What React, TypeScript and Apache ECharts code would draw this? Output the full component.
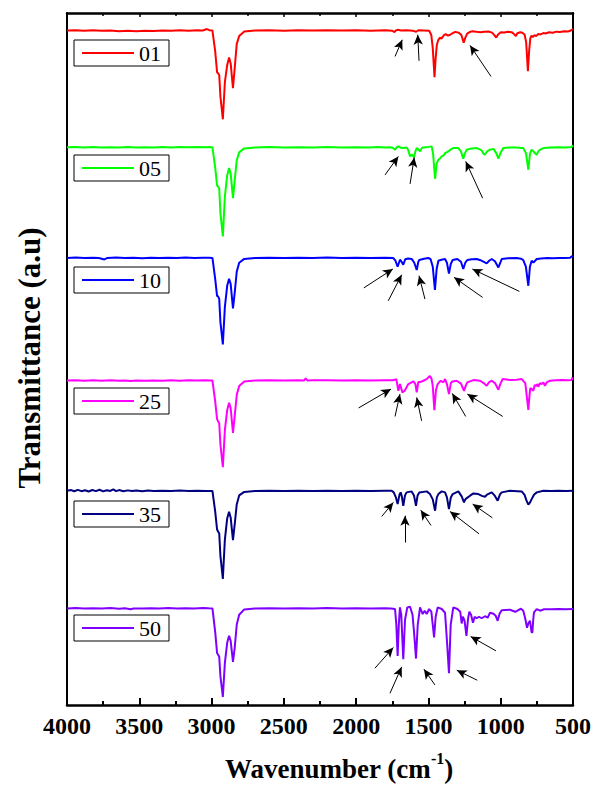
import { useEffect, useRef } from "react";
import * as echarts from "echarts";

type Pt = [number, number];
type Arrow = [number, number, number, number]; // tail wn, tail T, head wn, head T

const X_TICKS = [4000, 3500, 3000, 2500, 2000, 1500, 1000, 500];
const SAMPLE_NAMES = ["01", "05", "10", "25", "35", "50"];
const SAMPLE_COLORS = ["#ff0000", "#00ff00", "#0000ff", "#ff00ff", "#000080", "#8000ff"];

const SPEC_01: Pt[] = [
  [4000, 97.6], [3940, 97.9], [3880, 97.3], [3820, 97.7], [3760, 97.2], [3700, 97.5], [3640, 96.9], [3580, 97.3],
  [3520, 96.8], [3460, 97.4], [3400, 97.1], [3340, 97.6], [3280, 97.2], [3220, 97.7], [3160, 97.4], [3100, 97.8],
  [3060, 97.6], [3033, 99.0], [3015, 97.9], [2994, 97.5], [2975, 77], [2962, 56], [2955, 55], [2947, 53], [2939, 32],
  [2922, 9], [2908, 46], [2892, 63], [2879, 70.7], [2868, 65], [2852, 40], [2840, 60], [2826, 84], [2809, 92],
  [2774, 96.6], [2700, 97.5], [2600, 97.8], [2500, 97.4], [2400, 97.7], [2300, 97.5], [2200, 97.9], [2100, 97.6],
  [2000, 97.8], [1900, 97.4], [1800, 97.8], [1750, 97.3], [1735, 96.0], [1725, 97.6], [1712, 98.2], [1690, 97.5],
  [1650, 97.8], [1610, 97.4], [1585, 96.3], [1570, 97.8], [1530, 97.6], [1495, 97.4], [1480, 93], [1470, 80],
  [1458, 51], [1450, 70], [1442, 83], [1432, 88], [1420, 90.5], [1410, 89.5], [1395, 92.5], [1381, 94], [1365, 92.5],
  [1350, 93.3], [1335, 94.6], [1315, 96.2], [1290, 95.3], [1272, 93], [1256, 85.5], [1246, 90], [1232, 94.5],
  [1215, 96], [1195, 96.8], [1170, 96.2], [1140, 95.7], [1115, 96.3], [1085, 96.5], [1060, 95.4], [1045, 93.2],
  [1031, 90.5], [1018, 93.5], [1000, 95.8], [975, 95.5], [950, 96.3], [925, 95.9], [908, 94], [895, 92], [885, 94.8],
  [865, 95.8], [850, 95.3], [835, 93.5], [824, 86], [812, 57], [803, 78], [795, 90], [787, 92.3], [778, 91],
  [766, 93], [755, 92], [742, 94], [725, 93.6], [705, 95], [690, 94.6], [665, 95.8], [640, 95.3], [615, 96.4],
  [590, 96], [560, 96.8], [535, 96.6], [515, 97.5], [505, 98.6], [500, 98.3],
];

const SPEC_05: Pt[] = [
  [4000, 96.1], [3940, 96.4], [3880, 95.9], [3820, 96.3], [3760, 95.8], [3700, 96.2], [3640, 95.9], [3580, 96.4],
  [3520, 95.8], [3460, 96.2], [3400, 96.0], [3340, 96.4], [3280, 96.0], [3220, 96.3], [3160, 96.1], [3100, 96.4],
  [3040, 96.1], [3010, 96.3], [2994, 96], [2975, 76], [2962, 58], [2955, 57], [2947, 55], [2939, 31], [2922, 7.3],
  [2908, 47], [2892, 68], [2879, 75.5], [2868, 70], [2852, 45.5], [2840, 63], [2826, 83], [2809, 91], [2774, 95],
  [2700, 96], [2600, 96.3], [2500, 95.9], [2400, 96.2], [2300, 96.0], [2200, 96.3], [2100, 96.0], [2000, 96.2],
  [1904, 96], [1850, 96.3], [1800, 95.8], [1766, 96.2], [1745, 95.5], [1731, 93.7], [1720, 96], [1708, 97],
  [1690, 95.6], [1674, 95.3], [1650, 96], [1639, 93], [1627, 87], [1616, 88.7], [1608, 88], [1600, 86], [1590, 92],
  [1581, 95.3], [1570, 94], [1558, 92], [1545, 95.5], [1535, 96], [1500, 96.5], [1478, 97], [1468, 90], [1454, 64.7],
  [1443, 80], [1431, 83.7], [1420, 85], [1408, 87], [1395, 88], [1385, 90.3], [1362, 92], [1345, 94], [1328, 95.3],
  [1293, 95.3], [1275, 92], [1259, 84.7], [1248, 90], [1235, 93.7], [1200, 95], [1166, 95.3], [1145, 94], [1132, 93],
  [1120, 90], [1109, 88.7], [1095, 92], [1074, 93.7], [1050, 94.5], [1030, 90], [1016, 84.7], [1000, 91], [982, 95.3],
  [940, 95.8], [890, 96], [860, 95.5], [844, 95.3], [825, 90], [809, 73.7], [797, 90], [786, 93.7], [774, 92],
  [762, 90], [751, 88.7], [740, 92], [728, 93.7], [700, 95.5], [659, 96], [600, 96.2], [550, 96], [510, 96.5],
  [498, 97.7],
];

const SPEC_10: Pt[] = [
  [4000, 100.8], [3940, 101.2], [3880, 100.6], [3820, 101], [3780, 100.7], [3741, 99.3], [3720, 100.8], [3660, 101.1],
  [3600, 100.6], [3540, 101], [3480, 100.5], [3420, 100.9], [3360, 100.6], [3300, 101], [3240, 100.7], [3180, 101.1],
  [3120, 100.8], [3060, 101], [3020, 100.9], [2994, 100.8], [2975, 80], [2962, 63], [2955, 62.4], [2947, 60],
  [2939, 37], [2922, 14.6], [2908, 52], [2892, 73], [2879, 80], [2868, 75], [2852, 50.4], [2840, 66], [2826, 87],
  [2809, 96], [2774, 99.8], [2700, 100.8], [2600, 101], [2500, 100.7], [2400, 101], [2300, 100.8], [2200, 101.1],
  [2100, 100.8], [2000, 101], [1900, 100.7], [1800, 101], [1743, 100.7], [1728, 98], [1713, 92], [1697, 99],
  [1686, 97], [1674, 94], [1660, 99.5], [1640, 100.2], [1616, 99.8], [1598, 96], [1581, 88.7], [1570, 97],
  [1563, 98.7], [1530, 100], [1501, 100.7], [1485, 99.5], [1470, 92], [1455, 69], [1443, 90], [1431, 98],
  [1410, 99], [1385, 99.7], [1372, 96], [1358, 85.3], [1345, 95], [1332, 98.7], [1300, 99.7], [1275, 97],
  [1259, 89.7], [1245, 96], [1231, 98.7], [1200, 99.5], [1166, 99.7], [1140, 98.5], [1120, 97], [1097, 95.3],
  [1080, 98], [1062, 99.7], [1040, 97.5], [1016, 91.3], [1000, 97], [993, 99.7], [950, 100.5], [890, 100.7],
  [860, 100], [844, 98.7], [826, 92], [809, 73], [798, 92], [786, 98], [774, 96.3], [762, 98], [751, 99.7],
  [720, 100.3], [680, 100.6], [640, 100.4], [600, 100.8], [560, 100.6], [520, 100.9], [508, 102.5], [500, 102],
];

const SPEC_25: Pt[] = [
  [4000, 93.6], [3940, 93.9], [3880, 93.4], [3820, 93.8], [3760, 93.3], [3700, 93.7], [3640, 93.2], [3600, 93.6],
  [3560, 93], [3520, 93.5], [3460, 93.2], [3400, 93.6], [3340, 93.3], [3280, 93.7], [3220, 93.4], [3160, 93.8],
  [3100, 93.5], [3040, 93.9], [3010, 93.6], [2994, 93.5], [2975, 73], [2962, 55], [2955, 53], [2947, 51], [2939, 30],
  [2922, 7.2], [2908, 44], [2892, 64], [2879, 71.3], [2868, 66], [2852, 41.3], [2840, 58], [2826, 79], [2809, 88],
  [2774, 92.5], [2700, 93.6], [2600, 93.8], [2500, 93.5], [2400, 93.7], [2360, 93.6], [2349, 95.8], [2338, 93.6],
  [2300, 93.7], [2200, 93.9], [2100, 93.6], [2000, 93.8], [1900, 93.5], [1800, 93.9], [1743, 93.8], [1722, 95],
  [1708, 83.3], [1697, 90], [1680, 81.7], [1664, 83.3], [1639, 90], [1604, 92.7], [1590, 90], [1581, 81.7],
  [1570, 92], [1558, 92], [1535, 93.3], [1512, 95], [1501, 96.7], [1489, 98], [1478, 95], [1470, 88], [1459, 64],
  [1448, 84], [1436, 90], [1415, 93.3], [1397, 91.7], [1385, 95], [1372, 90], [1358, 80], [1345, 91], [1334, 92.5],
  [1305, 93.3], [1275, 90.5], [1254, 83.3], [1240, 89], [1231, 91.7], [1189, 94], [1143, 93.3], [1118, 91],
  [1097, 88.3], [1080, 92], [1062, 93.3], [1040, 91], [1016, 84.3], [1003, 90], [986, 95], [936, 94], [890, 94.4],
  [855, 95], [830, 91], [809, 64.3], [800, 80], [795, 86], [786, 85], [774, 83.3], [765, 89], [751, 88.3],
  [745, 90], [740, 87.3], [728, 91], [717, 90], [705, 91.5], [694, 88.3], [680, 92], [659, 93.3], [620, 93.8],
  [580, 94], [540, 93.8], [510, 94], [503, 96.7], [500, 96.3],
];

const SPEC_35: Pt[] = [
  [4000, 98.6], [3970, 99.3], [3950, 98.1], [3925, 99.5], [3900, 98.2], [3875, 99.1], [3850, 97.9], [3825, 99.4],
  [3800, 98.3], [3775, 99.6], [3750, 98], [3725, 99.2], [3700, 98.4], [3680, 100], [3660, 98.2], [3640, 99.3],
  [3610, 98.1], [3580, 99], [3550, 98.3], [3520, 98.9], [3480, 98.2], [3440, 98.8], [3400, 98.4], [3340, 98.7],
  [3280, 98.4], [3220, 98.8], [3160, 98.5], [3100, 98.7], [3040, 98.5], [2994, 98.5], [2975, 78], [2962, 60],
  [2955, 58], [2947, 56], [2939, 34], [2922, 10.8], [2908, 50], [2892, 71], [2879, 77.7], [2868, 72], [2852, 49.4],
  [2840, 65], [2826, 85], [2809, 94], [2774, 97.5], [2700, 98.5], [2600, 98.7], [2500, 98.5], [2400, 98.6],
  [2300, 98.4], [2200, 98.6], [2100, 98.5], [2000, 98.7], [1900, 98.5], [1800, 98.7], [1754, 98.7], [1740, 97],
  [1725, 92], [1713, 85.3], [1700, 95], [1692, 97], [1684, 93], [1674, 83.7], [1662, 94], [1651, 97], [1616, 98],
  [1600, 94], [1586, 83.7], [1575, 94], [1563, 97], [1512, 98], [1489, 95.3], [1470, 90], [1454, 78.7], [1442, 92],
  [1431, 95.3], [1408, 98], [1385, 97], [1372, 92], [1358, 80.3], [1345, 92], [1332, 95.3], [1293, 98], [1270, 93],
  [1254, 87], [1245, 90], [1235, 91.3], [1212, 93.7], [1189, 96], [1155, 95.3], [1130, 93.5], [1109, 92.7],
  [1095, 94.7], [1062, 97], [1040, 93.5], [1021, 88.7], [1005, 95], [993, 97], [936, 98.7], [855, 98], [835, 94.5],
  [822, 89], [809, 84.7], [797, 87], [786, 90.3], [770, 94.7], [751, 97], [705, 98.7], [650, 98.4], [600, 98.6],
  [550, 98.4], [500, 98.6],
];

const SPEC_50: Pt[] = [
  [4000, 96.3], [3940, 96.6], [3880, 96.1], [3820, 96.5], [3760, 96.2], [3700, 96.6], [3640, 96.0], [3600, 96.4],
  [3560, 95.5], [3540, 96.3], [3480, 96.1], [3420, 96.5], [3360, 96.2], [3300, 96.6], [3240, 96.3], [3180, 96.5],
  [3120, 96.2], [3060, 96.6], [3020, 96.4], [2994, 96.3], [2975, 73], [2962, 52], [2955, 50], [2947, 48], [2939, 29],
  [2922, 8], [2908, 42], [2892, 62], [2879, 69], [2868, 64], [2852, 43], [2840, 57], [2826, 80], [2809, 90],
  [2774, 95.3], [2700, 96.3], [2600, 96.5], [2500, 96.2], [2400, 96.5], [2300, 96.3], [2200, 96.6], [2100, 96.3],
  [2000, 96.5], [1900, 96.2], [1800, 96.5], [1760, 96.2], [1731, 95.7], [1722, 80], [1713, 49], [1705, 80],
  [1697, 97.3], [1688, 90], [1674, 45.7], [1662, 85], [1646, 97.3], [1627, 98], [1610, 90], [1598, 70], [1586, 46.3],
  [1574, 80], [1558, 97.3], [1540, 90.7], [1526, 94], [1512, 90.7], [1495, 95.7], [1480, 93], [1470, 80],
  [1461, 67.3], [1450, 88], [1436, 97.3], [1408, 95.7], [1385, 92], [1370, 60], [1358, 31.7], [1346, 80],
  [1328, 97.3], [1300, 95.7], [1280, 93], [1270, 81.3], [1262, 88], [1250, 84], [1237, 69], [1226, 86], [1217, 93],
  [1205, 90], [1192, 82], [1180, 88], [1166, 86.5], [1150, 88], [1132, 86.5], [1109, 88.5], [1090, 87], [1074, 92],
  [1050, 91], [1035, 89], [1021, 84], [1008, 91], [993, 94.5], [936, 95], [900, 93], [890, 93.5], [860, 96],
  [844, 94], [830, 86], [818, 77], [807, 82], [797, 84], [787, 73], [781, 72], [775, 85], [770, 92.3], [751, 95.7],
  [728, 94], [700, 95.5], [650, 95.4], [600, 95.7], [550, 95.5], [500, 95.8],
];

const ARROWS_01: Arrow[] = [[1731, 71.7, 1681, 88.3], [1565, 67.3, 1574, 93.3], [1067, 51.7, 1212, 82.7]];
const ARROWS_05: Arrow[] = [[1800, 68.6, 1708, 87], [1627, 59.6, 1598, 86], [1125, 45.3, 1242, 82]];
const ARROWS_10: Arrow[] = [
  [1947, 70.9, 1746, 89.7], [1778, 58, 1685, 84], [1524, 59.7, 1565, 83], [1125, 61.4, 1323, 81.4], [871, 67.4, 1196, 89.7],
];
const ARROWS_25: Arrow[] = [
  [1983, 66.2, 1759, 85], [1731, 57.7, 1697, 80], [1547, 53.3, 1581, 76.7], [1242, 57.7, 1335, 80.7], [986, 57.7, 1231, 80],
];
const ARROWS_35: Arrow[] = [
  [1823, 73, 1743, 87], [1662, 47, 1662, 73.7], [1482, 64, 1553, 79.3], [1150, 55.7, 1351, 78], [1058, 71.7, 1194, 85.3],
];
const ARROWS_50: Arrow[] = [
  [1870, 36.7, 1743, 57.3], [1766, 11.7, 1685, 38], [1455, 20, 1531, 35.7], [1162, 24.7, 1304, 34.7], [1033, 54, 1208, 68.3],
];

const SPECTRA = [SPEC_01, SPEC_05, SPEC_10, SPEC_25, SPEC_35, SPEC_50];
const ARROWS = [ARROWS_01, ARROWS_05, ARROWS_10, ARROWS_25, ARROWS_35, ARROWS_50];

const FONT = "'Liberation Serif', 'Times New Roman', serif";

export default function App() {
  const ref = useRef<HTMLDivElement>(null);

  useEffect(() => {
    if (!ref.current) return;
    const chart = echarts.init(ref.current, undefined, { renderer: "svg" });

    const left = 67;
    const top = 13;
    const width = 506;
    const height = 692;
    const panelH = height / SAMPLE_NAMES.length;
    const legendTops = [40, 155, 267, 388, 501, 615];

    const xMin = Math.min(...X_TICKS);
    const xMax = Math.max(...X_TICKS);
    const xInterval = X_TICKS[0] - X_TICKS[1];

    const grids: any[] = [{ left, top, width, height }];
    const xAxes: any[] = [
      {
        type: "value", gridIndex: 0, position: "bottom", min: xMin, max: xMax, interval: xInterval, inverse: true,
        axisLine: { show: true, onZero: false, lineStyle: { color: "#000", width: 2.5 } },
        axisTick: { show: true, inside: true, length: 7, lineStyle: { color: "#000", width: 2 } },
        minorTick: { show: true, splitNumber: 2, length: 4, lineStyle: { color: "#000", width: 2 } },
        axisLabel: {
          show: true, margin: 9, color: "#000", fontFamily: FONT, fontWeight: "bold", fontSize: 24,
          formatter: (v: number) => String(v),
        },
        splitLine: { show: false },
      },
      {
        type: "value", gridIndex: 0, position: "top", min: xMin, max: xMax, interval: xInterval, inverse: true,
        axisLine: { show: true, onZero: false, lineStyle: { color: "#000", width: 2.5 } },
        axisTick: { show: true, inside: true, length: 4, lineStyle: { color: "#000", width: 1.5 } },
        minorTick: { show: true, splitNumber: 2, length: 3, lineStyle: { color: "#000", width: 1.5 } },
        axisLabel: { show: false },
        splitLine: { show: false },
      },
    ];
    const yAxes: any[] = [
      {
        type: "value", gridIndex: 0, position: "left", min: 0, max: 1,
        axisLine: { show: true, onZero: false, lineStyle: { color: "#000", width: 2 } },
        axisTick: { show: false }, axisLabel: { show: false }, splitLine: { show: false },
      },
      {
        type: "value", gridIndex: 0, position: "right", min: 0, max: 1,
        axisLine: { show: true, onZero: false, lineStyle: { color: "#000", width: 2 } },
        axisTick: { show: false }, axisLabel: { show: false }, splitLine: { show: false },
      },
    ];
    const series: any[] = [];
    const legends: any[] = [];

    SAMPLE_NAMES.forEach((name, i) => {
      const gi = i + 1;
      grids.push({ left, top: top + i * panelH, width, height: panelH });
      xAxes.push({ type: "value", gridIndex: gi, min: xMin, max: xMax, inverse: true, show: false });
      yAxes.push({ type: "value", gridIndex: gi, min: 0, max: 115, show: false });
      series.push({
        type: "line",
        name,
        xAxisIndex: i + 2,
        yAxisIndex: i + 2,
        data: SPECTRA[i],
        color: SAMPLE_COLORS[i],
        showSymbol: false,
        symbol: "none",
        silent: true,
        lineStyle: { width: 2, color: SAMPLE_COLORS[i] },
        emphasis: { disabled: true },
        markLine: {
          silent: true,
          animation: false,
          symbol: ["none", "arrow"],
          symbolSize: [7, 10],
          label: { show: false },
          lineStyle: { color: "#000", width: 1, type: "solid" },
          emphasis: { disabled: true },
          data: ARROWS[i].map(([tx, ty, hx, hy]) => [{ coord: [tx, ty] }, { coord: [hx, hy] }]),
        },
      });
      legends.push({
        data: [name],
        left: 74,
        top: legendTops[i],
        orient: "horizontal",
        selectedMode: false,
        icon: "rect",
        itemWidth: 52,
        itemHeight: 2,
        borderColor: "#000",
        borderWidth: 1,
        padding: [2, 8, 2, 8],
        backgroundColor: "#fff",
        textStyle: { color: "#000", fontFamily: FONT, fontSize: 22 },
      });
    });

    chart.setOption({
      animation: false,
      backgroundColor: "#fff",
      grid: grids,
      xAxis: xAxes,
      yAxis: yAxes,
      legend: legends,
      series,
      graphic: [
        {
          type: "text",
          x: 29,
          y: 358,
          rotation: Math.PI / 2,
          style: {
            text: "Transmittance (a.u)",
            fontFamily: FONT,
            fontWeight: "bold",
            fontSize: 31,
            fill: "#000",
            align: "center",
            verticalAlign: "middle",
          },
        },
        {
          type: "text",
          x: 339,
          y: 766,
          style: {
            text: "{a|Wavenumber (cm}{s|-1}{a|)}",
            align: "center",
            verticalAlign: "middle",
            rich: {
              a: { fontFamily: FONT, fontWeight: "bold", fontSize: 27, fill: "#000", lineHeight: 32, verticalAlign: "bottom" },
              s: { fontFamily: FONT, fontWeight: "bold", fontSize: 16, fill: "#000", lineHeight: 32, verticalAlign: "top" },
            },
          },
        },
      ],
    });

    return () => chart.dispose();
  }, []);

  return (
    <div
      ref={ref}
      style={{ position: "absolute", left: 0, top: 0, width: 596, height: 787, background: "#fff" }}
    />
  );
}
